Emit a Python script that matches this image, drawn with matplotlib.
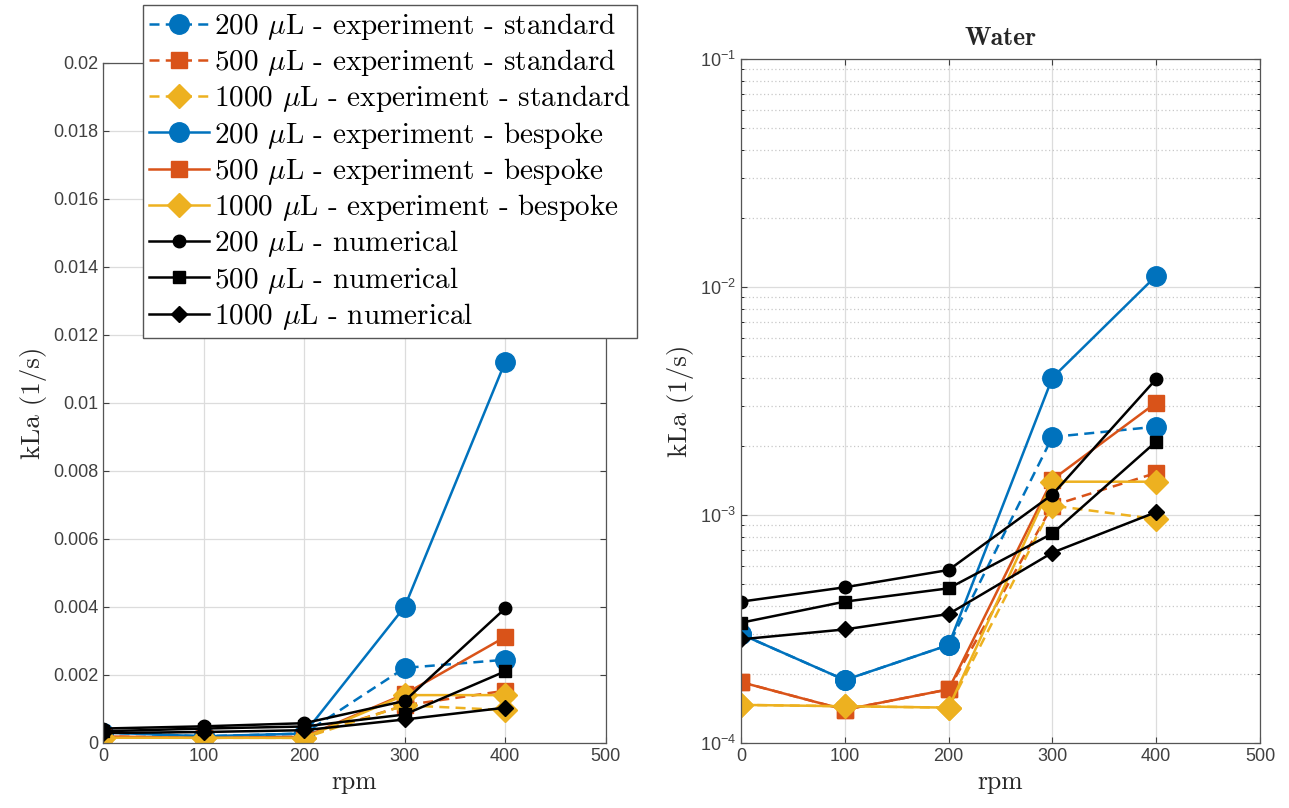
import matplotlib
matplotlib.use("Agg")
import matplotlib.pyplot as plt
import matplotlib.ticker as mticker

plt.rcParams["font.family"] = ["Liberation Sans", "DejaVu Sans"]
plt.rcParams["mathtext.fontset"] = "cm"

rpm = [0, 100, 200, 300, 400]

# kLa (1/s) per fill volume
std_200 = [3.0e-4, 1.89e-4, 2.69e-4, 2.2e-3, 2.44e-3]
std_500 = [1.85e-4, 1.40e-4, 1.72e-4, 1.1e-3, 1.53e-3]
std_1000 = [1.47e-4, 1.45e-4, 1.43e-4, 1.1e-3, 9.6e-4]
besp_200 = [3.0e-4, 1.89e-4, 2.69e-4, 4.0e-3, 1.12e-2]
besp_500 = [1.85e-4, 1.40e-4, 1.72e-4, 1.43e-3, 3.11e-3]
besp_1000 = [1.47e-4, 1.45e-4, 1.43e-4, 1.40e-3, 1.40e-3]
num_200 = [4.17e-4, 4.82e-4, 5.74e-4, 1.23e-3, 3.95e-3]
num_500 = [3.37e-4, 4.17e-4, 4.77e-4, 8.3e-4, 2.1e-3]
num_1000 = [2.85e-4, 3.15e-4, 3.68e-4, 6.84e-4, 1.03e-3]

labels = [
    r"200 $\mu$L - experiment - standard",
    r"500 $\mu$L - experiment - standard",
    r"1000 $\mu$L - experiment - standard",
    r"200 $\mu$L - experiment - bespoke",
    r"500 $\mu$L - experiment - bespoke",
    r"1000 $\mu$L - experiment - bespoke",
    r"200 $\mu$L - numerical",
    r"500 $\mu$L - numerical",
    r"1000 $\mu$L - numerical",
]

BLUE = "#0072BD"
ORANGE = "#D95319"
YELLOW = "#EDB120"
DASH = (0, (4, 2.5))

series = [
    (std_200, dict(color=BLUE, ls=DASH, marker="o", ms=14)),
    (std_500, dict(color=ORANGE, ls=DASH, marker="s", ms=11)),
    (std_1000, dict(color=YELLOW, ls=DASH, marker="D", ms=12)),
    (besp_200, dict(color=BLUE, ls="-", marker="o", ms=14)),
    (besp_500, dict(color=ORANGE, ls="-", marker="s", ms=11)),
    (besp_1000, dict(color=YELLOW, ls="-", marker="D", ms=12)),
    (num_200, dict(color="k", ls="-", marker="o", ms=9)),
    (num_500, dict(color="k", ls="-", marker="s", ms=8)),
    (num_1000, dict(color="k", ls="-", marker="D", ms=8)),
]

AX_COLOR = "#404040"
TEXT_FONT = "cmr10"

fig = plt.figure(figsize=(12.89, 8.08), dpi=100)
ax1 = fig.add_axes([0.0801, 0.0808, 0.3898, 0.8416])
ax2 = fig.add_axes([0.5749, 0.0804, 0.4026, 0.8466])

for ax in (ax1, ax2):
    lines = []
    for vals, style in series:
        (ln,) = ax.plot(rpm, vals, lw=1.8, **style)
        lines.append(ln)
    ax.set_xlim(0, 500)
    ax.set_xticks([0, 100, 200, 300, 400, 500])
    ax.grid(True, which="major", color="#dcdcdc", lw=0.9)
    ax.set_axisbelow(True)
    ax.tick_params(direction="in", labelsize=13, colors=AX_COLOR,
                   top=True, right=True, length=4)
    for sp in ax.spines.values():
        sp.set_color("#555555")
        sp.set_linewidth(0.9)
    ax.set_xlabel("rpm", fontsize=18.5, family=TEXT_FONT, color="#262626")
    ax.set_ylabel("kLa (1/s)", fontsize=19.5, family=TEXT_FONT, color="#262626")

ax1.set_ylim(0, 0.02)
ax1.set_yticks([i * 0.002 for i in range(11)])
ax1.yaxis.set_major_formatter(mticker.FuncFormatter(lambda v, p: f"{v:g}"))

ax2.set_yscale("log")
ax2.set_ylim(1e-4, 1e-1)
ax2.yaxis.set_minor_locator(mticker.LogLocator(base=10, subs=range(2, 10)))
ax2.yaxis.set_minor_formatter(mticker.NullFormatter())
ax2.grid(True, which="minor", axis="y", color="#c8c8c8", lw=0.9, ls=(0, (1, 2)))
ax2.tick_params(which="minor", direction="in", length=2.5, right=True)
ax2.set_title("Water", fontsize=18.5, family="cmb10", color="#262626", pad=10)

leg = fig.legend(lines, labels, loc="upper left",
                 bbox_to_anchor=(143 / 1289, 1 - 5 / 808),
                 bbox_transform=fig.transFigure,
                 prop={"family": TEXT_FONT, "size": 21},
                 fancybox=False, edgecolor="#555555", framealpha=1,
                 handlelength=2.05, handletextpad=0.2, labelspacing=0.18,
                 borderpad=0.2, borderaxespad=0)
leg.get_frame().set_linewidth(1.0)

fig.savefig("out.png", dpi=100)
